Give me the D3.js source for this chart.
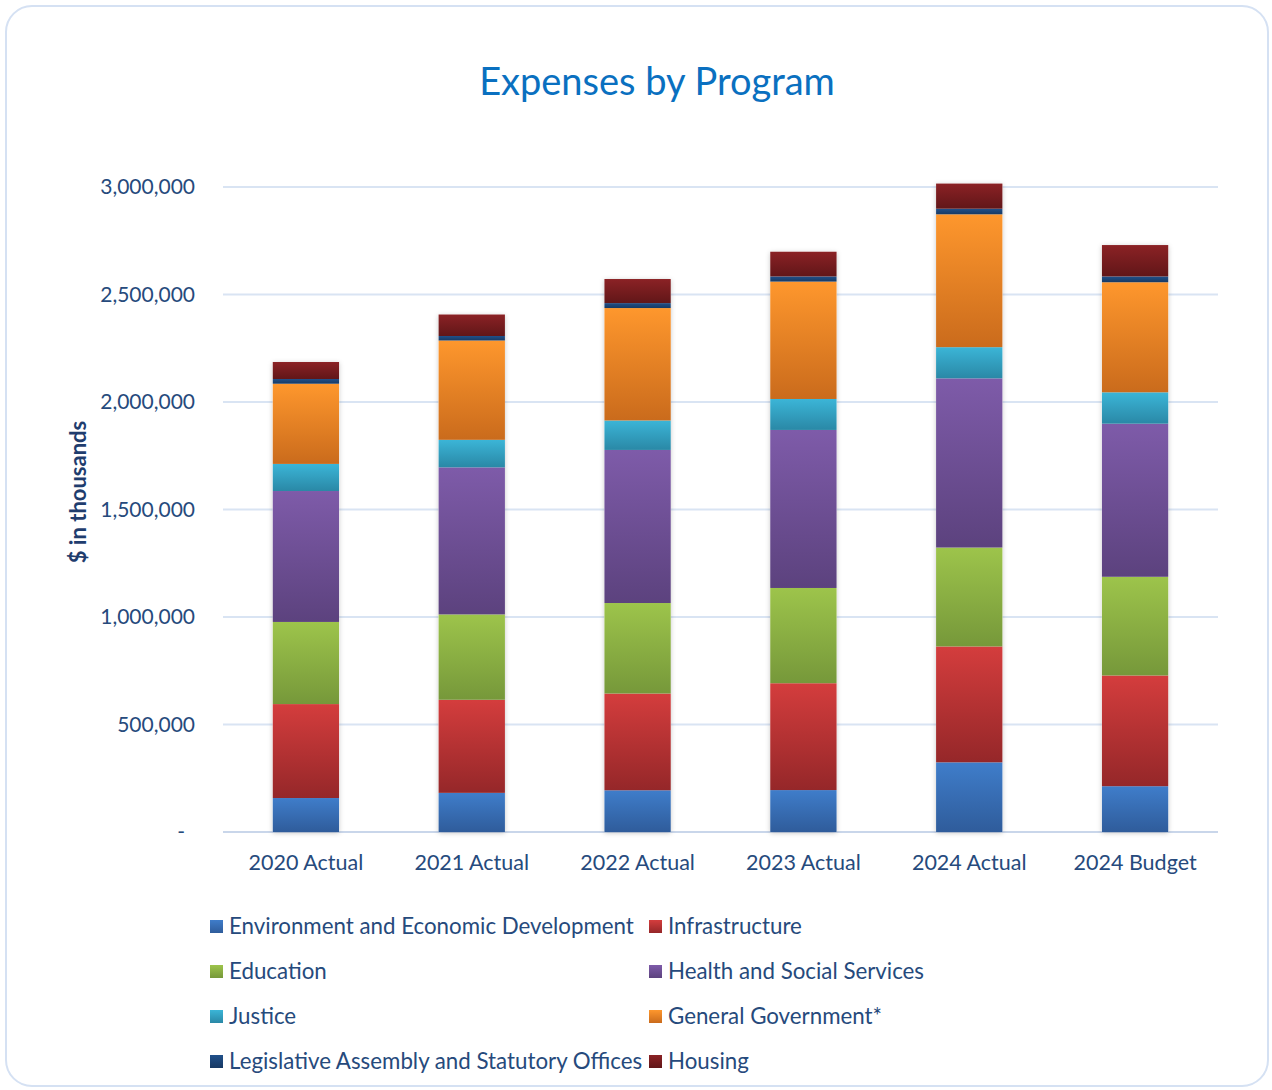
<!DOCTYPE html>
<html>
<head>
<meta charset="utf-8">
<script src="https://cdn.jsdelivr.net/npm/d3@7"></script>
<style>
  body { margin: 0; background: #fff; }
  svg text { font-family: Lato, "Noto Sans", sans-serif; }
</style>
</head>
<body>
<div id="chart"></div>
<script>
// values in $ thousands
const years = ['2020 Actual', '2021 Actual', '2022 Actual', '2023 Actual', '2024 Actual', '2024 Budget'];
const programs = [
  'Environment and Economic Development',
  'Infrastructure',
  'Education',
  'Health and Social Services',
  'Justice',
  'General Government*',
  'Legislative Assembly and Statutory Offices',
  'Housing'
];
const envEcon   = [158000, 182000, 194000, 195000, 324000, 213000];
const infra     = [437000, 433000, 450000, 497000, 539000, 515000];
const education = [382000, 397000, 421000, 443000, 460000, 459000];
const health    = [609000, 684000, 712000, 735000, 787000, 712000];
const justice   = [126000, 128000, 137000, 144000, 145000, 146000];
const genGov    = [373000, 462000, 523000, 546000, 618000, 512000];
const legis     = [22000, 21000, 23000, 24000, 26000, 27000];
const housing   = [79000, 100000, 112000, 115000, 117000, 146000];
const yTicks = [0, 500000, 1000000, 1500000, 2000000, 2500000, 3000000];

const series = [envEcon, infra, education, health, justice, genGov, legis, housing];
// top / bottom gradient colours per program
const colors = [
  ['#3f7dca', '#2f5c9b'],
  ['#d43d3d', '#952729'],
  ['#9dc44b', '#76983a'],
  ['#7e5ba9', '#5c427e'],
  ['#3bb5d7', '#2a88a6'],
  ['#fe972d', '#ca6b1c'],
  ['#20508a', '#173963'],
  ['#8b2225', '#611618']
];

const w = 1272, h = 1090;
const plotTop = 187, plotBottom = 832, plotLeft = 223, plotRight = 1218;
const navy = '#264a7c';

const rows = years.map((yr, i) => {
  const r = { year: yr };
  programs.forEach((p, j) => r[p] = series[j][i]);
  return r;
});
const stacked = d3.stack().keys(programs)(rows);

const svg = d3.select('#chart').append('svg')
  .attr('width', w)
  .attr('height', h);

const defs = svg.append('defs');
colors.forEach((c, i) => {
  const g = defs.append('linearGradient')
    .attr('id', 'grad' + i)
    .attr('x1', 0).attr('y1', 0).attr('x2', 0).attr('y2', 1);
  g.append('stop').attr('offset', '0%').attr('stop-color', c[0]);
  g.append('stop').attr('offset', '100%').attr('stop-color', c[1]);
});
const shadow = defs.append('filter').attr('id', 'shadow')
  .attr('x', '-20%').attr('y', '-5%').attr('width', '140%').attr('height', '110%');
shadow.append('feDropShadow')
  .attr('dx', 0).attr('dy', 1)
  .attr('stdDeviation', 2.5)
  .attr('flood-color', '#000')
  .attr('flood-opacity', 0.22);

// outer frame
svg.append('rect')
  .attr('x', 6).attr('y', 6)
  .attr('width', 1262).attr('height', 1080)
  .attr('rx', 26)
  .attr('fill', '#fff')
  .attr('stroke', '#d5e1f3')
  .attr('stroke-width', 2);

svg.append('text')
  .attr('x', 657).attr('y', 95)
  .attr('text-anchor', 'middle')
  .attr('fill', '#0a70c0')
  .style('font-size', '38px')
  .text('Expenses by Program');

const xScale = d3.scaleBand()
  .domain(years)
  .range([plotLeft, plotRight])
  .paddingInner(0.6)
  .paddingOuter(0.3);
const yScale = d3.scaleLinear()
  .domain([0, 3000000])
  .range([plotBottom, plotTop]);

// gridlines
svg.append('g')
  .selectAll('line')
  .data(yTicks)
  .enter()
  .append('line')
  .attr('x1', plotLeft).attr('x2', plotRight)
  .attr('y1', d => yScale(d)).attr('y2', d => yScale(d))
  .attr('stroke', d => d === 0 ? '#c9d6ea' : '#d9e4f3')
  .attr('stroke-width', 2);

const yAxis = d3.axisLeft(yScale)
  .tickValues(yTicks)
  .tickSize(0)
  .tickPadding(0)
  .tickFormat(d => d === 0 ? '-' : d3.format(',')(d));
const yG = svg.append('g')
  .attr('transform', `translate(${plotLeft - 28}, 0)`)
  .call(yAxis);
yG.select('.domain').remove();
yG.selectAll('text')
  .attr('fill', navy)
  .style('font-size', '21px')
  .attr('dx', d => d === 0 ? -10 : 0);

const totals = stacked[stacked.length - 1];

// soft shadow around each whole column
svg.append('g')
  .selectAll('rect')
  .data(rows)
  .enter()
  .append('rect')
  .attr('x', d => xScale(d.year))
  .attr('width', xScale.bandwidth())
  .attr('y', (d, i) => yScale(totals[i][1]))
  .attr('height', (d, i) => plotBottom - yScale(totals[i][1]))
  .attr('fill', '#fff')
  .attr('filter', 'url(#shadow)');

// bars
svg.append('g')
  .selectAll('g')
  .data(stacked)
  .enter()
  .append('g')
  .attr('fill', (d, i) => `url(#grad${i})`)
  .selectAll('rect')
  .data(d => d)
  .enter()
  .append('rect')
  .attr('x', d => xScale(d.data.year))
  .attr('width', xScale.bandwidth())
  .attr('y', d => yScale(d[1]))
  .attr('height', d => yScale(d[0]) - yScale(d[1]));

const xAxis = d3.axisBottom(xScale).tickSize(0).tickPadding(0);
const xG = svg.append('g')
  .attr('transform', `translate(0, ${plotBottom + 38})`)
  .call(xAxis);
xG.select('.domain').remove();
xG.selectAll('text')
  .attr('fill', navy)
  .attr('dy', 0)
  .style('font-size', '21.5px');

svg.append('text')
  .attr('transform', 'translate(86, 492) rotate(-90)')
  .attr('text-anchor', 'middle')
  .attr('fill', '#1f3d6e')
  .style('font-size', '22px')
  .style('font-weight', 'bold')
  .text('$ in thousands');

// legend, two columns
const legend = svg.append('g')
  .selectAll('g')
  .data(programs)
  .enter()
  .append('g')
  .attr('transform', (d, i) => `translate(${i % 2 === 0 ? 210 : 649}, ${926 + Math.floor(i / 2) * 45})`);
legend.append('rect')
  .attr('x', 0).attr('y', -6)
  .attr('width', 13).attr('height', 13)
  .attr('fill', (d, i) => `url(#grad${i})`);
legend.append('text')
  .attr('x', 19).attr('y', 7.5)
  .attr('fill', navy)
  .style('font-size', '22.3px')
  .text(d => d);
</script>
</body>
</html>
